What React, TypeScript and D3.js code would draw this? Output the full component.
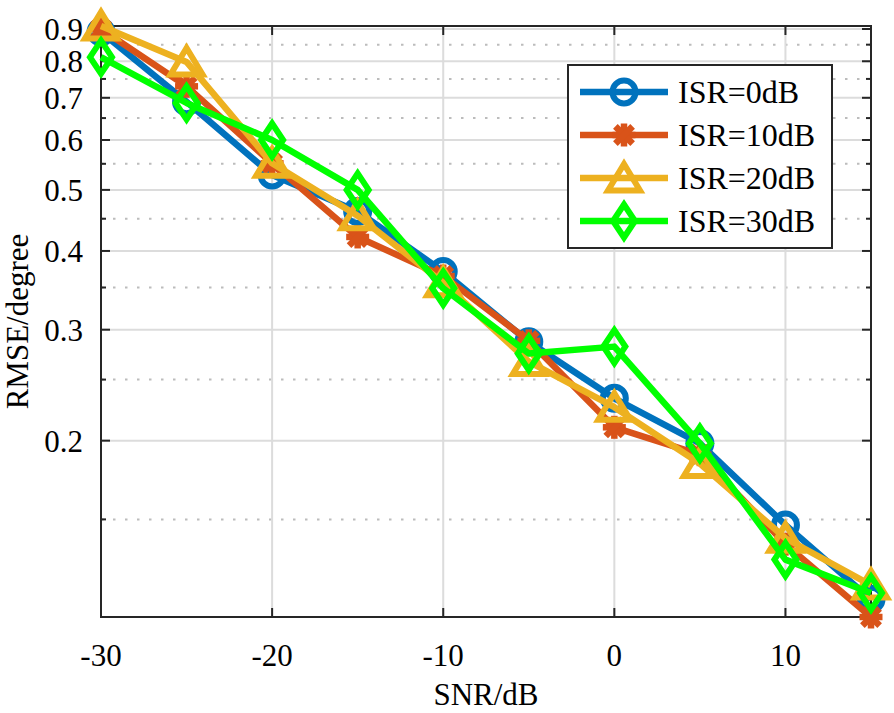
import React from "react";
import * as d3 from "d3";

const snr = [-30, -25, -20, -15, -10, -5, 0, 5, 10, 15];
const isr0 = [0.89, 0.69, 0.528, 0.462, 0.371, 0.287, 0.2335, 0.198, 0.147, 0.112];
const isr10 = [0.9, 0.73, 0.551, 0.421, 0.365, 0.288, 0.21, 0.19, 0.137, 0.105];
const isr20 = [0.91, 0.798, 0.551, 0.455, 0.356, 0.267, 0.226, 0.184, 0.14, 0.118];
const isr30 = [0.812, 0.687, 0.6, 0.5, 0.349, 0.275, 0.282, 0.198, 0.1295, 0.1146];
const seriesNames = ["ISR=0dB", "ISR=10dB", "ISR=20dB", "ISR=30dB"];
const seriesColors = ["#0072BD", "#D95319", "#EDB120", "#00FF00"];
const seriesMarkers = ["circle", "star", "triangle", "diamond"];
const xTicks = [-30, -20, -10, 0, 10];
const yTicks = [0.2, 0.3, 0.4, 0.5, 0.6, 0.7, 0.8, 0.9];
const yMinorTicks = [0.15, 0.25, 0.35, 0.45, 0.55, 0.65, 0.75, 0.85];

const W = 894, H = 713;
const L = 101, R = 871, T = 26, B = 617;
const FONT = "'Liberation Serif', 'Times New Roman', serif";

function Marker({ type, x, y, color }: { type: string; x: number; y: number; color: string }) {
  const sw = 6;
  if (type === "circle")
    return <circle cx={x} cy={y} r={11.5} fill="none" stroke={color} strokeWidth={sw} />;
  if (type === "star") {
    const a = 11.5, d = a * 0.75;
    return (
      <g stroke={color} strokeWidth={6.5}>
        <line x1={x - a} y1={y} x2={x + a} y2={y} />
        <line x1={x} y1={y - a} x2={x} y2={y + a} />
        <line x1={x - d} y1={y - d} x2={x + d} y2={y + d} />
        <line x1={x - d} y1={y + d} x2={x + d} y2={y - d} />
      </g>
    );
  }
  if (type === "triangle")
    return (
      <polygon
        points={`${x},${y - 14} ${x - 16},${y + 12.5} ${x + 16},${y + 12.5}`}
        fill="none" stroke={color} strokeWidth={sw} strokeLinejoin="miter" strokeMiterlimit={10}
      />
    );
  return (
    <polygon
      points={`${x},${y - 16.5} ${x + 11},${y} ${x},${y + 16.5} ${x - 11},${y}`}
      fill="none" stroke={color} strokeWidth={sw} strokeLinejoin="miter" strokeMiterlimit={10}
    />
  );
}

export default function App() {
  const all = [isr0, isr10, isr20, isr30];
  const flat = all.flat();
  const x = d3.scaleLinear().domain([-30, 15]).range([L, R]);
  const y = d3.scaleLog().domain([d3.min(flat)!, d3.max(flat)!]).range([B, T]);
  const line = d3.line<number>().x((_, i) => x(snr[i])).y((v) => y(v));
  const axisColor = "#262626";

  const legX = 568, legY = 65, legW = 264, legH = 183;
  const rowY = [92, 135, 178, 221];

  return (
    <svg width={W} height={H} style={{ position: "absolute", left: 0, top: 0, background: "#fff" }}
      fontFamily={FONT}>
      <rect x={0} y={0} width={W} height={H} fill="#fff" />
      {yMinorTicks.map((t) => (
        <line key={"mg" + t} x1={L} x2={R} y1={y(t)} y2={y(t)} stroke="#bcbcbc" strokeWidth={2}
          strokeDasharray="2.5 9.5" />
      ))}
      {yTicks.map((t) => (
        <line key={"gy" + t} x1={L} x2={R} y1={y(t)} y2={y(t)} stroke="#dcdcdc" strokeWidth={2} />
      ))}
      {xTicks.map((t) => (
        <line key={"gx" + t} x1={x(t)} x2={x(t)} y1={T} y2={B} stroke="#dcdcdc" strokeWidth={2} />
      ))}
      <rect x={L} y={T} width={R - L} height={B - T} fill="none" stroke={axisColor} strokeWidth={2} />
      {yTicks.map((t) => (
        <g key={"ty" + t} stroke={axisColor} strokeWidth={2}>
          <line x1={L} x2={L + 9} y1={y(t)} y2={y(t)} />
          <line x1={R} x2={R - 9} y1={y(t)} y2={y(t)} />
        </g>
      ))}
      {yMinorTicks.map((t) => (
        <g key={"tmy" + t} stroke={axisColor} strokeWidth={2}>
          <line x1={L} x2={L + 5} y1={y(t)} y2={y(t)} />
          <line x1={R} x2={R - 5} y1={y(t)} y2={y(t)} />
        </g>
      ))}
      {xTicks.map((t) => (
        <g key={"tx" + t} stroke={axisColor} strokeWidth={2}>
          <line x1={x(t)} x2={x(t)} y1={B} y2={B - 9} />
          <line x1={x(t)} x2={x(t)} y1={T} y2={T + 9} />
        </g>
      ))}
      {yTicks.map((t) => (
        <text key={"ly" + t} x={83} y={y(t) + 11} fontSize={31} textAnchor="end" fill="#000">
          {String(t)}
        </text>
      ))}
      {xTicks.map((t) => (
        <text key={"lx" + t} x={x(t)} y={666} fontSize={31} textAnchor="middle" fill="#000">
          {String(t)}
        </text>
      ))}
      <text x={(L + R) / 2} y={705} fontSize={31} textAnchor="middle" fill="#000">SNR/dB</text>
      <text transform={`translate(28,${(T + B) / 2}) rotate(-90)`} fontSize={31} textAnchor="middle" fill="#000">
        RMSE/degree
      </text>
      {all.map((s, k) => (
        <g key={"s" + k}>
          <path d={line(s)!} fill="none" stroke={seriesColors[k]} strokeWidth={6.5} strokeLinejoin="round" />
          {s.map((v, i) => (
            <Marker key={i} type={seriesMarkers[k]} x={x(snr[i])} y={y(v)} color={seriesColors[k]} />
          ))}
        </g>
      ))}
      <rect x={legX} y={legY} width={legW} height={legH} fill="#fff" stroke={axisColor} strokeWidth={2} />
      {seriesNames.map((n, k) => (
        <g key={"lg" + k}>
          <line x1={580} x2={668} y1={rowY[k]} y2={rowY[k]} stroke={seriesColors[k]} strokeWidth={6.5} />
          <Marker type={seriesMarkers[k]} x={624} y={rowY[k]} color={seriesColors[k]} />
          <text x={678} y={rowY[k] + 11} fontSize={32} fill="#000">{n}</text>
        </g>
      ))}
    </svg>
  );
}
